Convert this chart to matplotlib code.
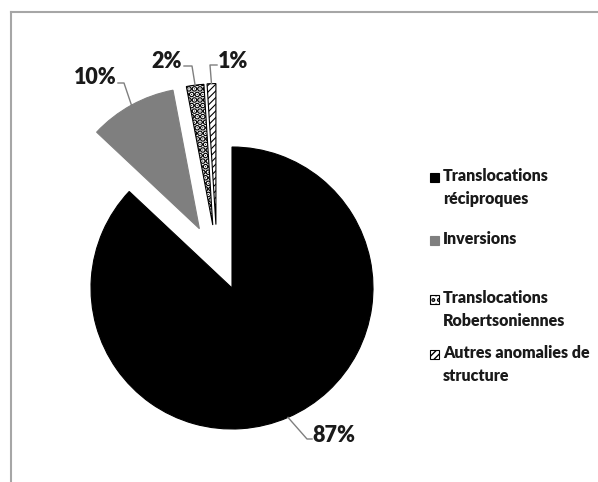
import matplotlib.pyplot as plt
from matplotlib.patches import Rectangle
from matplotlib.lines import Line2D
import numpy as np

plt.rcParams['font.family'] = ['Lato', 'DejaVu Sans']

# data
categories = ['Translocations\nréciproques', 'Inversions',
              'Translocations\nRobertsoniennes', 'Autres anomalies de\nstructure']
values = [87, 10, 2, 1]
labels = ['87%', '10%', '2%', '1%']

faces = ['black', '#7f7f7f', 'white', 'white']
hatches = [None, None, '...', '/////']
edges = ['black', '#7f7f7f', 'black', 'black']
explode = [0, 0.48, 0.45, 0.45]
nudge = [0, 0, -0.08, -0.1]   # small extra sideways shift like in the original

W, H = 598, 482
CX, CY, R = 232, 288, 141   # pie centre and radius in pixels

def px(x, y):
    return ((x - CX) / R, (CY - y) / R)

fig = plt.figure(figsize=(W / 100, H / 100), dpi=100)
ax = fig.add_axes([0, 0, 1, 1])

wedges, _ = ax.pie(values, startangle=90, counterclock=False, explode=explode,
                   radius=1, wedgeprops=dict(linewidth=0.8))
for w, fc, h, ec, dx in zip(wedges, faces, hatches, edges, nudge):
    w.set_facecolor(fc)
    w.set_edgecolor(ec)
    if h:
        w.set_hatch(h)
    cx0, cy0 = w.center
    w.set_center((cx0 + dx, cy0))
if hasattr(wedges[2], 'set_hatch_linewidth'):
    wedges[2].set_hatch_linewidth(3.2)
    wedges[3].set_hatch_linewidth(0.8)

ax.set_xlim(-CX / R, (W - CX) / R)
ax.set_ylim((CY - H) / R, CY / R)
ax.axis('off')

# percentage labels with leader lines
lab_pos = [(334, 436), (95, 78), (167, 62), (233, 62)]
elbow = [(307, 439), (124, 83), (192, 66), (210, 65)]
start = [(312, 439), (118, 83), (184, 66), (217, 65)]
for w, lab, tp, el, st in zip(wedges, labels, lab_pos, elbow, start):
    mid = np.deg2rad((w.theta1 + w.theta2) / 2)
    ax_pt = (w.center[0] + w.r * np.cos(mid), w.center[1] + w.r * np.sin(mid))
    e = px(*el)
    s = px(*st)
    ax.plot([s[0], e[0], ax_pt[0]], [s[1], e[1], ax_pt[1]],
            color='#7f7f7f', lw=1, zorder=5)
    x, y = px(*tp)
    ax.text(x, y, lab, ha='center', va='center', fontsize=15.5,
            fontweight='heavy', color='#1a1a1a')

# legend drawn by hand to keep the Excel look
leg_y = [178, 241, 300, 355]
for i, (cat, fc, h, ec, y) in enumerate(zip(categories, faces, hatches, edges, leg_y)):
    x0, y0 = px(430, y + 4)
    rect = Rectangle((x0, y0), 9 / R, 9 / R, facecolor=fc, hatch=h,
                     edgecolor='black' if h else fc, lw=0.8)
    if i == 2 and hasattr(rect, 'set_hatch_linewidth'):
        rect.set_hatch_linewidth(2.0)
    ax.add_patch(rect)
    tx, ty = px(443, y - 10)
    ax.text(tx, ty, cat, ha='left', va='top', fontsize=11.5,
            fontweight='heavy', color='#1a1a1a', linespacing=1.55)

# thin grey frame (only top/left visible)
fig.add_artist(Line2D([11 / W, 1], [1 - 12 / H, 1 - 12 / H], color='#a6a6a6', lw=1.5))
fig.add_artist(Line2D([11 / W, 11 / W], [0, 1 - 12 / H], color='#a6a6a6', lw=1.5))

fig.savefig('out.png', dpi=100)
